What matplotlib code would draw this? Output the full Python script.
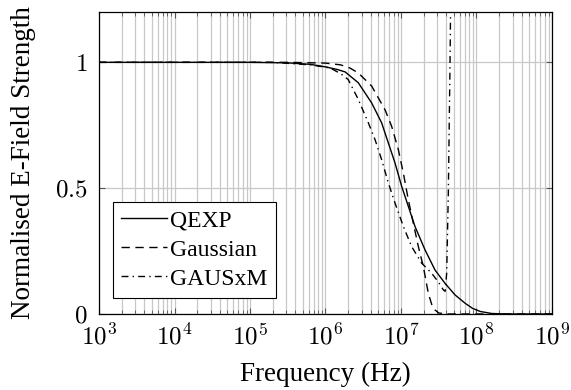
import matplotlib
matplotlib.use("Agg")
import matplotlib.pyplot as plt
import numpy as np
from matplotlib.ticker import FixedLocator, NullFormatter

plt.rcParams['font.family'] = ['Liberation Serif', 'DejaVu Serif']
plt.rcParams['mathtext.fontset'] = 'cm'

# data (frequency as log10 Hz)
qexp_logf = [3.0, 5.0, 5.5, 5.8, 6.0, 6.15, 6.26, 6.434, 6.611, 6.743, 6.832, 6.921,
             7.009, 7.097, 7.185, 7.318, 7.45, 7.583, 7.715, 7.848, 7.95, 8.05, 8.2,
             8.4, 9.0]
qexp_val = [1.0, 1.0, 0.998, 0.992, 0.982, 0.972, 0.962, 0.919, 0.839, 0.76, 0.68, 0.6,
            0.507, 0.428, 0.348, 0.255, 0.175, 0.122, 0.076, 0.043, 0.022, 0.01, 0.002,
            0.0, 0.0]

gauss_logf = [3.0, 5.5, 6.0, 6.2, 6.32, 6.434, 6.611, 6.788, 6.876, 6.965, 7.031, 7.097,
              7.163, 7.23, 7.296, 7.362, 7.41, 7.45, 7.5, 7.6, 9.0]
gauss_val = [1.0, 1.0, 0.997, 0.99, 0.978, 0.958, 0.906, 0.812, 0.746, 0.653, 0.56, 0.454,
             0.361, 0.268, 0.188, 0.082, 0.035, 0.016, 0.004, 0.0, 0.0]

gausxm_logf = [3.0, 5.3, 5.8, 6.06, 6.2, 6.3, 6.434, 6.567, 6.656, 6.743, 6.832, 6.921,
               7.031, 7.141, 7.274, 7.406, 7.5, 7.56, 7.585, 7.605, 7.627, 7.649, 7.66]
gausxm_val = [1.0, 1.0, 0.99, 0.978, 0.955, 0.932, 0.853, 0.76, 0.693, 0.614, 0.521, 0.441,
              0.348, 0.268, 0.202, 0.162, 0.125, 0.096, 0.09, 0.162, 0.48, 0.985, 1.3]

xtick_exp = [3, 4, 5, 6, 7, 8, 9]
ytick_vals = [0, 0.5, 1]
ytick_labels = ['$0$', '$0.5$', '$1$']

fig = plt.figure(figsize=(5.71, 3.90), dpi=100)
ax = fig.add_axes([0.1734, 0.1949, 0.7933, 0.7743])

ax.plot(np.power(10.0, qexp_logf), qexp_val, color='black', lw=1.0, label='QEXP')
ax.plot(np.power(10.0, gauss_logf), gauss_val, color='black', lw=1.0,
        linestyle=(0, (6, 4)), label='Gaussian')
ax.plot(np.power(10.0, gausxm_logf), gausxm_val, color='black', lw=1.0,
        linestyle=(0, (5, 3, 1, 3)), label='GAUSxM')

ax.set_xscale('log')
ax.set_xlim(1e3, 1e9)
ax.set_ylim(0, 1.2)

ax.set_xticks([10.0 ** e for e in xtick_exp])
ax.set_xticklabels(['$10^{%d}$' % e for e in xtick_exp])
minor = [m * 10.0 ** e for e in xtick_exp[:-1] for m in range(2, 10)]
ax.xaxis.set_minor_locator(FixedLocator(minor))
ax.xaxis.set_minor_formatter(NullFormatter())
ax.set_yticks(ytick_vals)
ax.set_yticklabels(ytick_labels)

ax.grid(True, which='major', color='#c8c8c8', lw=0.9)
ax.grid(True, which='minor', axis='x', color='#c8c8c8', lw=0.9)
ax.set_axisbelow(True)

ax.tick_params(which='both', direction='in', top=True, right=True,
               labelsize=18, color='#555555')
ax.tick_params(which='major', length=4, width=0.8)
ax.tick_params(which='minor', length=3, width=0.6)
ax.tick_params(axis='x', which='major', pad=7)
ax.tick_params(axis='y', which='major', pad=8)
for s in ax.spines.values():
    s.set_linewidth(0.9)

ax.set_xlabel('Frequency (Hz)', fontsize=19.5, labelpad=9)
ax.set_ylabel('Normalised E-Field Strength', fontsize=19.5, labelpad=14)

leg = ax.legend(loc='lower left', bbox_to_anchor=(0.030, 0.053), borderaxespad=0,
                fontsize=17, fancybox=False, framealpha=1, edgecolor='black',
                handlelength=1.95, handletextpad=0.15, borderpad=0.35,
                labelspacing=0.32)
leg.get_frame().set_linewidth(0.8)

fig.savefig('out.png', dpi=100)
